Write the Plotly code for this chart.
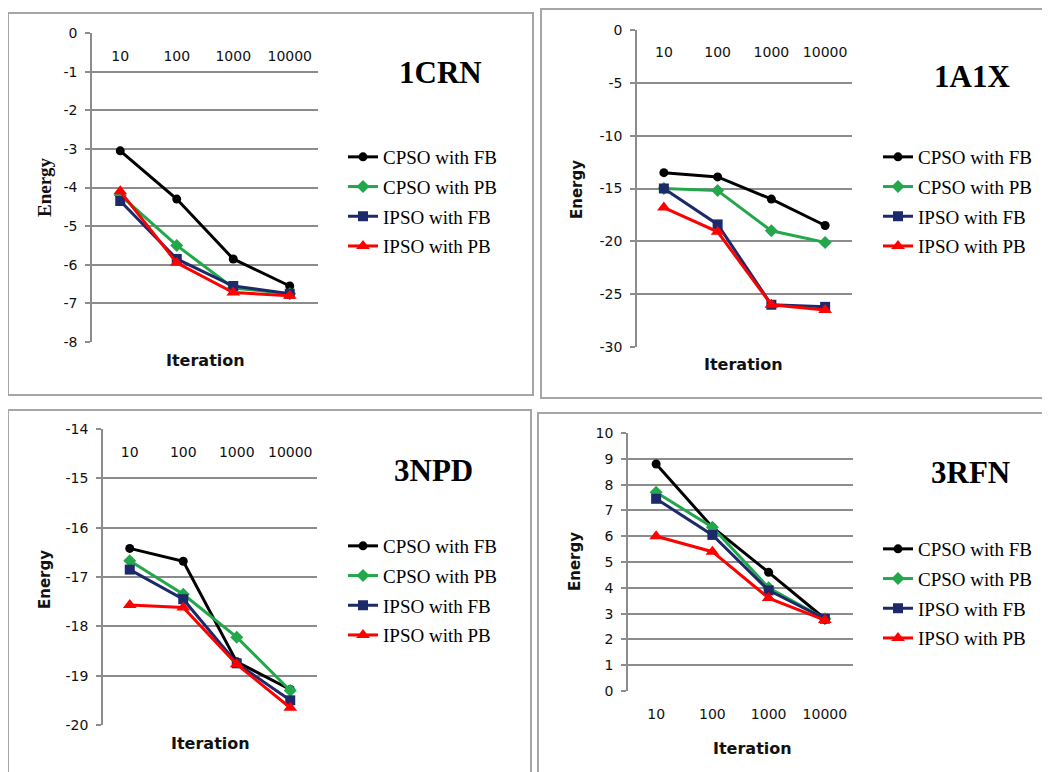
import plotly.graph_objects as go

W, H = 1050, 772

iterations = ["10", "100", "1000", "10000"]
series_names = ["CPSO with FB", "CPSO with PB", "IPSO with FB", "IPSO with PB"]

crn_cpso_fb = [-3.05, -4.3, -5.85, -6.55]
crn_cpso_pb = [-4.2, -5.5, -6.6, -6.75]
crn_ipso_fb = [-4.35, -5.85, -6.55, -6.75]
crn_ipso_pb = [-4.1, -5.95, -6.72, -6.8]

a1x_cpso_fb = [-13.5, -13.9, -16.0, -18.5]
a1x_cpso_pb = [-15.0, -15.2, -19.0, -20.1]
a1x_ipso_fb = [-15.0, -18.4, -26.0, -26.2]
a1x_ipso_pb = [-16.8, -19.1, -26.0, -26.5]

npd_cpso_fb = [-16.42, -16.68, -18.72, -19.28]
npd_cpso_pb = [-16.67, -17.35, -18.22, -19.3]
npd_ipso_fb = [-16.85, -17.45, -18.75, -19.5]
npd_ipso_pb = [-17.57, -17.62, -18.77, -19.65]

rfn_cpso_fb = [8.8, 6.35, 4.6, 2.8]
rfn_cpso_pb = [7.7, 6.35, 4.0, 2.8]
rfn_ipso_fb = [7.45, 6.05, 3.9, 2.8]
rfn_ipso_pb = [6.0, 5.4, 3.6, 2.75]

# y tick values and labels (hyphen minus as in the original)
crn_ticks = [0, -1, -2, -3, -4, -5, -6, -7, -8]
a1x_ticks = [0, -5, -10, -15, -20, -25, -30]
npd_ticks = [-14, -15, -16, -17, -18, -19, -20]
rfn_ticks = [0, 1, 2, 3, 4, 5, 6, 7, 8, 9, 10]

panel_names = ["1CRN", "1A1X", "3NPD", "3RFN"]
panel_data = [
    [crn_cpso_fb, crn_cpso_pb, crn_ipso_fb, crn_ipso_pb],
    [a1x_cpso_fb, a1x_cpso_pb, a1x_ipso_fb, a1x_ipso_pb],
    [npd_cpso_fb, npd_cpso_pb, npd_ipso_fb, npd_ipso_pb],
    [rfn_cpso_fb, rfn_cpso_pb, rfn_ipso_fb, rfn_ipso_pb],
]
panel_ticks = [crn_ticks, a1x_ticks, npd_ticks, rfn_ticks]
y_ranges = [[-8, 0], [-30, 0], [-20, -14], [0, 10]]

colors = ["#000000", "#22a84a", "#1c2a6b", "#ff0000"]
symbols = ["circle", "diamond", "square", "triangle-up"]
msizes = [9, 10, 10, 12]

OFF = 8  # page body margin


def px(x):
    return (x - OFF) / W


def py(y):
    return 1 - (y - OFF) / H


geo = [
    dict(pa=(92, 318, 33, 342), xl=57, leg=(343, 138), title=(440, 73),
         energy=(45, 187), iteration=(205, 360), box=(8, 533, 13, 395)),
    dict(pa=(637, 852, 30, 347), xl=53, leg=(878, 138), title=(972, 77),
         energy=(577, 190), iteration=(743, 364), box=(541, 1048, 9, 398)),
    dict(pa=(103, 317, 429, 725), xl=453, leg=(343, 527), title=(433, 470),
         energy=(45, 580), iteration=(210, 743), box=(8, 531, 410, 800)),
    dict(pa=(628, 853, 433, 691), xl=715, leg=(878, 530), title=(970, 472),
         energy=(575, 562), iteration=(752, 748), box=(538, 1048, 413, 800)),
]

fig = go.Figure()
annotations = []
shapes = []
layout_axes = {}
tickfont = dict(family="DejaVu Sans", size=14, color="#111111")

for i in range(4):
    g = geo[i]
    n = "" if i == 0 else str(i + 1)
    xa, ya = "x" + n, "y" + n
    leg = "legend" + n
    for s in range(4):
        fig.add_trace(go.Scatter(
            x=iterations, y=panel_data[i][s], name=series_names[s],
            mode="lines+markers", xaxis=xa, yaxis=ya, legend=leg,
            legendgroup=f"{i}-{s}",
            line=dict(color=colors[s], width=3),
            marker=dict(symbol=symbols[s], size=msizes[s], color=colors[s]),
        ))
    x0, x1, yt, yb = g["pa"]
    layout_axes["xaxis" + n] = dict(
        domain=[px(x0), px(x1)], anchor="free", position=py(g["xl"] - 11),
        type="category", range=[-0.5, len(iterations) - 0.5],
        showgrid=False, showline=False, zeroline=False,
        ticks="", tickfont=tickfont, fixedrange=True,
    )
    tv = panel_ticks[i]
    layout_axes["yaxis" + n] = dict(
        domain=[py(yb), py(yt)], anchor=xa, range=y_ranges[i],
        tickmode="array", tickvals=tv, ticktext=[str(v) for v in tv],
        showgrid=True, gridcolor="#8c8c8c", gridwidth=1.5,
        showline=True, linecolor="#8c8c8c", linewidth=1.5,
        ticks="outside", ticklen=5, tickcolor="#8c8c8c", tickwidth=1.5,
        ticklabelstandoff=5, zeroline=False, tickfont=tickfont, fixedrange=True,
    )
    lx, lt = g["leg"]
    layout_axes[leg] = dict(
        x=px(lx), y=py(lt), xanchor="left", yanchor="top",
        font=dict(family="Liberation Serif", size=19, color="#000000"),
        bgcolor="rgba(0,0,0,0)", tracegroupgap=2, itemclick=False,
    )
    tx, ty = g["title"]
    annotations.append(dict(
        x=px(tx), y=py(ty), xref="paper", yref="paper", text="<b>%s</b>" % panel_names[i],
        showarrow=False, xanchor="center", yanchor="middle",
        font=dict(family="Liberation Serif", size=31, color="#000000"),
    ))
    ex, ey = g["energy"]
    if i == 0:
        efont = dict(family="Liberation Serif", size=19, color="#111111")
    else:
        efont = dict(family="DejaVu Sans", size=15, color="#111111")
    annotations.append(dict(
        x=px(ex), y=py(ey), xref="paper", yref="paper", text="<b>Energy</b>",
        textangle=-90, showarrow=False, xanchor="center", yanchor="middle", font=efont,
    ))
    ix, iy = g["iteration"]
    annotations.append(dict(
        x=px(ix), y=py(iy), xref="paper", yref="paper", text="<b>Iteration</b>",
        showarrow=False, xanchor="center", yanchor="middle",
        font=dict(family="DejaVu Sans", size=16, color="#111111"),
    ))
    bx0, bx1, by0, by1 = g["box"]
    shapes.append(dict(
        type="rect", xref="paper", yref="paper",
        x0=px(bx0), x1=px(bx1), y0=py(by1), y1=py(by0),
        line=dict(color="#a6a6a6", width=2), fillcolor="rgba(0,0,0,0)", layer="below",
    ))

fig.update_layout(
    width=W, height=H,
    margin=dict(l=0, r=0, t=0, b=0, autoexpand=False),
    paper_bgcolor="white", plot_bgcolor="white",
    annotations=annotations, shapes=shapes,
    **layout_axes,
)

fig.write_html("out.html")
